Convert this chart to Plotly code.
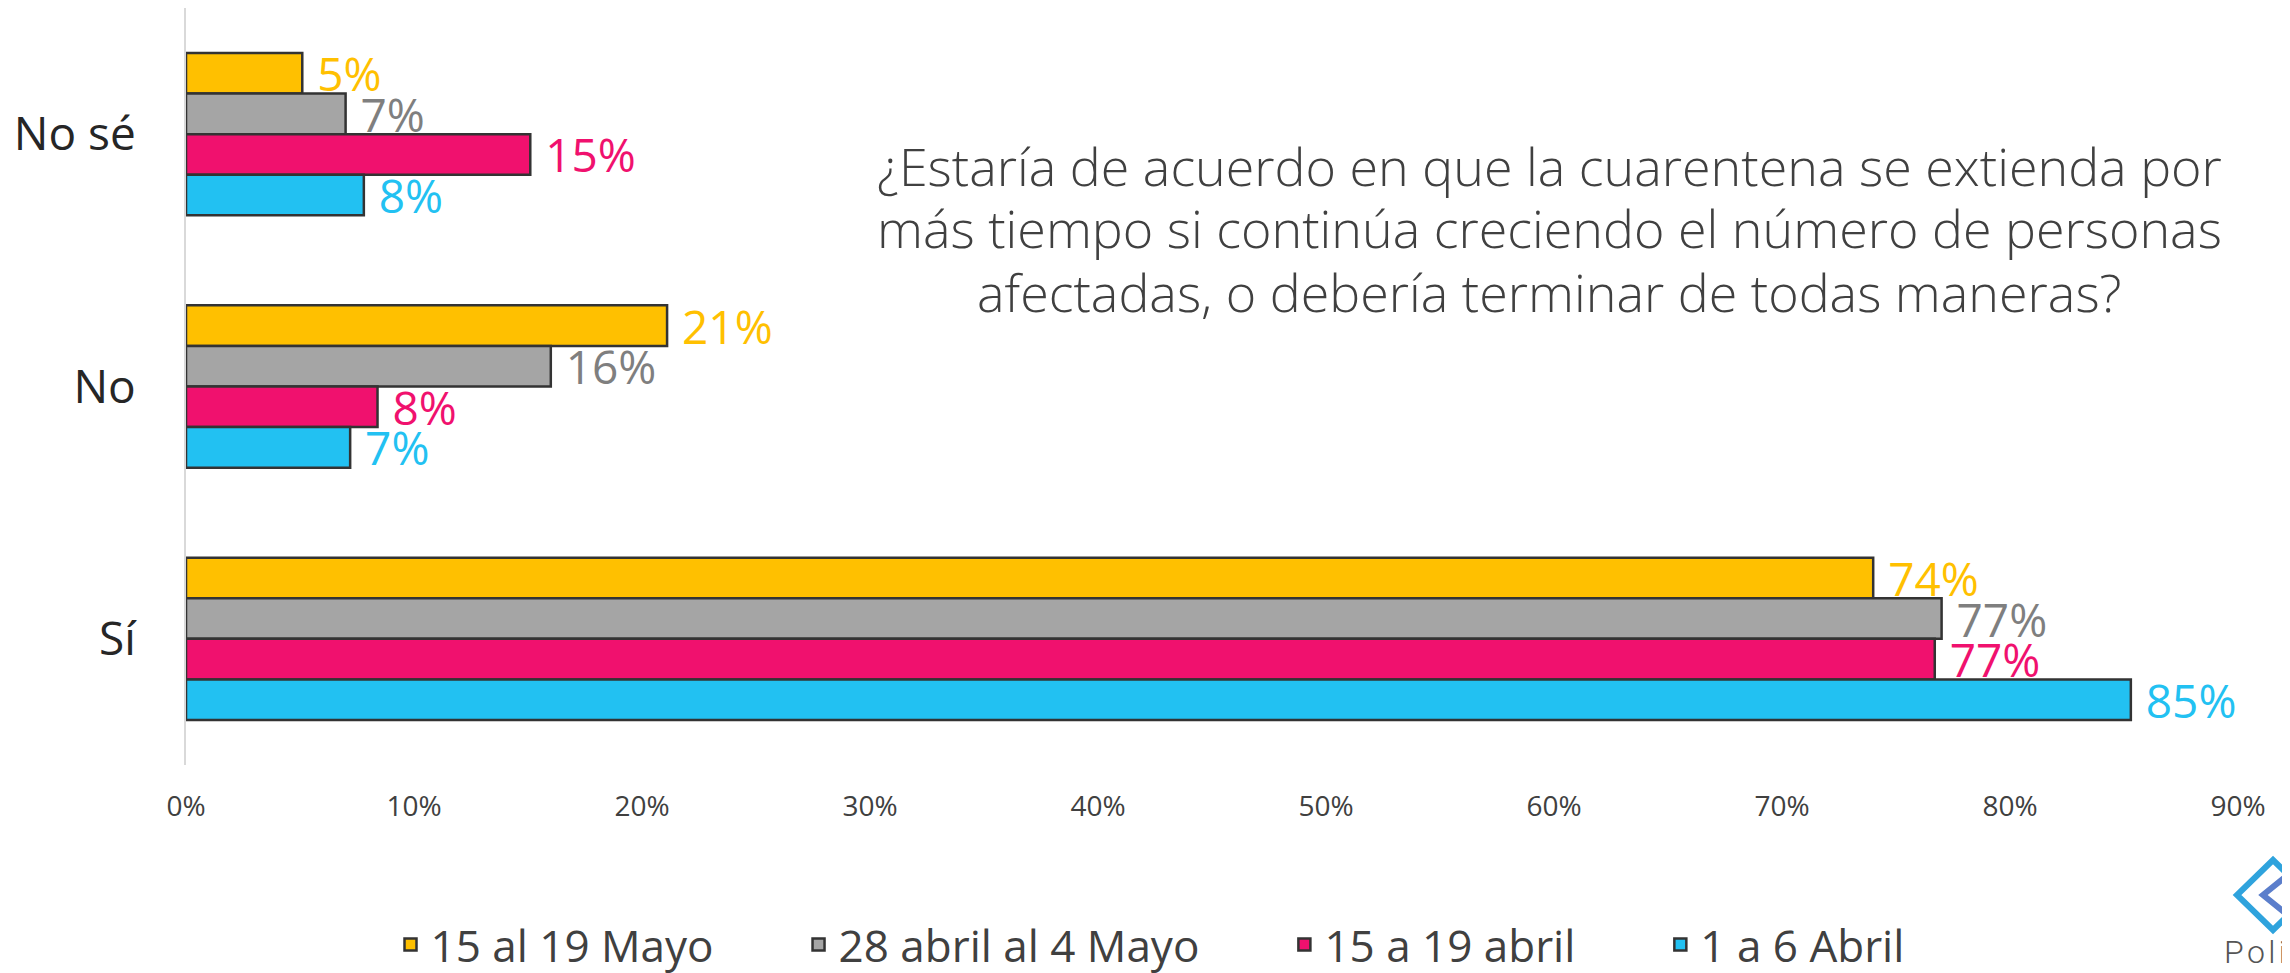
import plotly.graph_objects as go

# ---------------- data ----------------
categories = ["No sé", "No", "Sí"]
series_names = ["15 al 19 Mayo", "28 abril al 4 Mayo", "15 a 19 abril", "1 a 6 Abril"]
mayo_15_19 = [0.051, 0.211, 0.740]
abril28_mayo4 = [0.070, 0.160, 0.770]
abril_15_19 = [0.151, 0.084, 0.767]
abril_1_6 = [0.078, 0.072, 0.853]
label_mayo_15_19 = ["5%", "21%", "74%"]
label_abril28_mayo4 = ["7%", "16%", "77%"]
label_abril_15_19 = ["15%", "8%", "77%"]
label_abril_1_6 = ["8%", "7%", "85%"]
x_ticks = [0, 0.1, 0.2, 0.3, 0.4, 0.5, 0.6, 0.7, 0.8, 0.9]
title_lines = [
    "¿Estaría de acuerdo en que la cuarentena se extienda por",
    "más tiempo si continúa creciendo el número de personas",
    "afectadas, o debería terminar de todas maneras?",
]

values = [mayo_15_19, abril28_mayo4, abril_15_19, abril_1_6]
labels = [label_mayo_15_19, label_abril28_mayo4, label_abril_15_19, label_abril_1_6]
fill_colors = ["#FFC000", "#A5A5A5", "#F0116E", "#22C1F2"]
text_colors = ["#FFC000", "#7F7F7F", "#F0116E", "#22C1F2"]

# page body has an 8px margin: figure is offset by 8px on screen
OFF = 8
W, H = 2290 - OFF, 973 - OFF
PLOT_L, PLOT_R, PLOT_T, PLOT_B = 186, 2238, 8, 765   # screen pixels
ML = PLOT_L - OFF
MT = PLOT_T - OFF
MR = W - (PLOT_R - OFF)
MB = H - (PLOT_B - OFF)
PW, PH = PLOT_R - PLOT_L, PLOT_B - PLOT_T


def px(x):
    return (x - PLOT_L) / PW


def py(y):
    return (PLOT_B - y) / PH


NB = "\u00a0"
fig = go.Figure()
for i, (name, vals, labs, fc, tc) in enumerate(zip(series_names, values, labels, fill_colors, text_colors)):
    pad = NB * 7 if i < len(series_names) - 1 else ""
    fig.add_trace(go.Bar(
        y=categories, x=vals, orientation="h", name=name + pad,
        marker=dict(color=fc, line=dict(color="#333333", width=2.5)),
        text=[NB + t for t in labs], textposition="outside",
        constraintext="none", cliponaxis=False,
        textfont=dict(family="Open Sans", size=46, color=tc),
    ))

annotations = []
centers = [165, 228, 291]
for line, yy in zip(title_lines, centers):
    annotations.append(dict(
        x=px(1549), y=py(yy), xref="paper", yref="paper", xanchor="center", yanchor="middle",
        text=line, showarrow=False,
        font=dict(family="Open Sans", size=52, color="#404040", weight=300),
    ))
annotations.append(dict(
    x=px(2222), y=py(952), xref="paper", yref="paper", xanchor="left", yanchor="middle",
    text="P\u200ao\u200al\u200ai", showarrow=False,
    font=dict(family="Roboto", size=32, color="#555555", weight=300),
))


def pts(points):
    return "M " + " L ".join(f"{px(a):.5f},{py(b):.5f}" for a, b in points)


shapes = [
    dict(type="path", xref="paper", yref="paper",
         path=pts([(2309, 895), (2273, 860), (2237, 895), (2273, 930), (2309, 895)]) + " Z",
         line=dict(color="#2FA3DD", width=6)),
    dict(type="path", xref="paper", yref="paper",
         path=pts([(2290, 873), (2263, 895), (2290, 917)]),
         line=dict(color="#5B7ECB", width=6)),
    dict(type="path", xref="paper", yref="paper",
         path=pts([(2300, 884), (2289, 895), (2300, 906)]),
         line=dict(color="#7B5EB0", width=6)),
]

fig.update_layout(
    width=W, height=H,
    margin=dict(l=ML, r=MR, t=MT, b=MB, autoexpand=False),
    paper_bgcolor="white", plot_bgcolor="white",
    barmode="group", bargap=0.357, bargroupgap=0,
    showlegend=True,
    legend=dict(
        orientation="h", x=px(1150), xanchor="center", y=py(945), yanchor="middle",
        font=dict(family="Open Sans", size=44, color="#404040"),
        traceorder="normal",
    ),
    xaxis=dict(
        range=[0, 0.9], tickvals=x_ticks, tickformat=".0%",
        showgrid=False, zeroline=False, showline=False, ticks="",
        tickfont=dict(family="Open Sans", size=28, color="#404040"),
        ticklabelstandoff=22, automargin=False,
    ),
    yaxis=dict(
        categoryorder="array", categoryarray=categories, autorange="reversed",
        showgrid=False, zeroline=False, showline=True, linecolor="#D9D9D9", linewidth=2,
        ticks="", ticklabelstandoff=39, automargin=False,
        tickfont=dict(family="Open Sans", size=46, color="#262626"),
    ),
    annotations=annotations,
    shapes=shapes,
)

fig.write_html("out.html")
